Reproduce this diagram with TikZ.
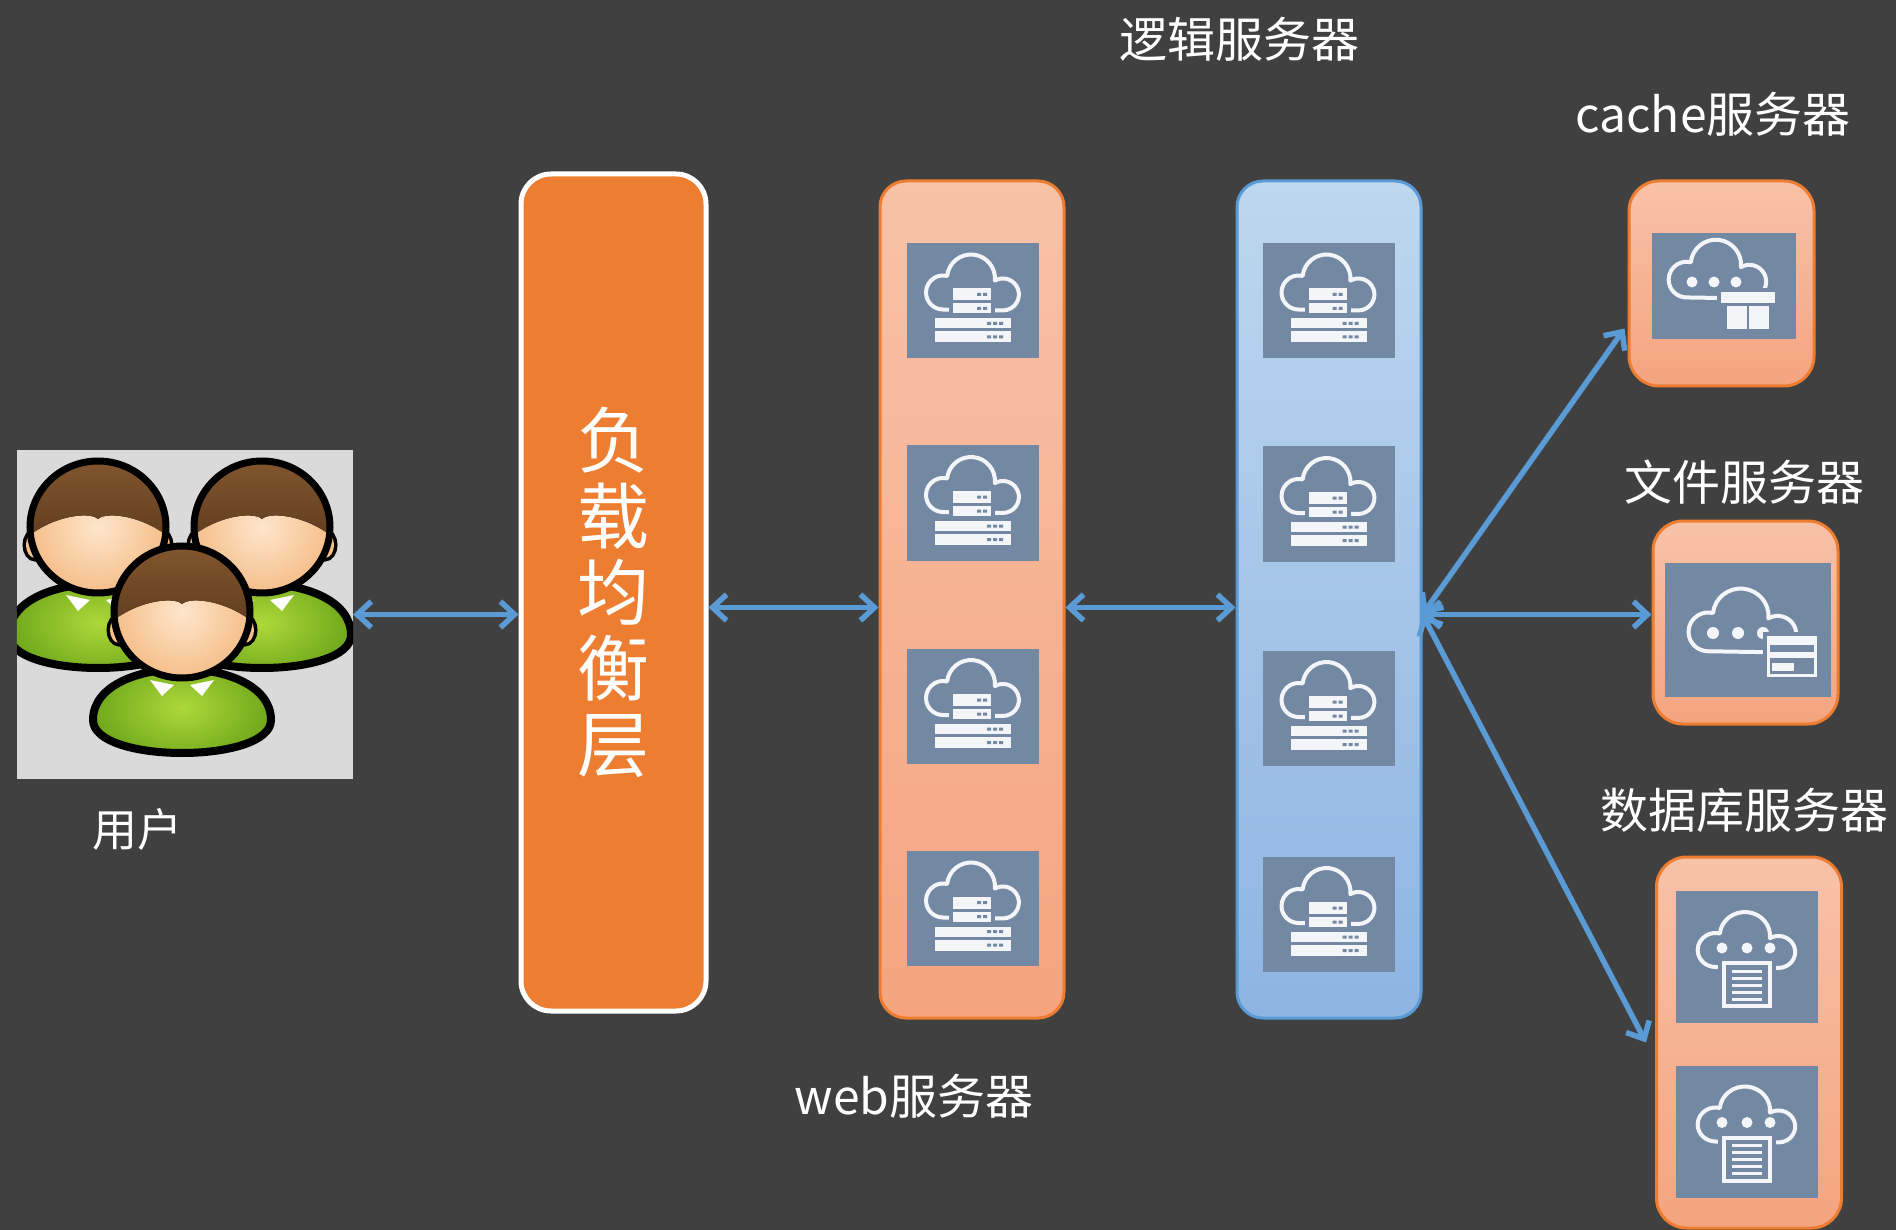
\documentclass[tikz,border=0pt]{standalone}
\usepackage{fontspec}
\setmainfont{Noto Sans CJK SC}
\usetikzlibrary{arrows.meta}

\definecolor{bgdark}{HTML}{404040}
\definecolor{lborange}{HTML}{ED7D31}
\definecolor{webtop}{HTML}{F8C2A8}
\definecolor{webbot}{HTML}{F5A47F}
\definecolor{logictop}{HTML}{BDD7EE}
\definecolor{logicbot}{HTML}{8EB4E3}
\definecolor{logicedge}{HTML}{5B9BD5}
\definecolor{linkblue}{HTML}{5B9BD5}
\definecolor{iconbg}{HTML}{7389A3}
\definecolor{iconfg}{HTML}{F3F5F8}
\definecolor{userbg}{HTML}{DADADA}
\definecolor{shirt}{HTML}{6FA81B}
\definecolor{shirtlight}{HTML}{AED83A}
\definecolor{face}{HTML}{F5BE8A}
\definecolor{facelight}{HTML}{FEE6CC}
\definecolor{hair}{HTML}{5E3B1E}
\definecolor{hairlight}{HTML}{8A5B31}

\tikzset{
  iconline/.style={draw=iconfg, line width=4pt, line join=round},
  % cloud outline, three bumps
  cloudicon/.pic={
    \draw[iconline] (-30,9) arc[start angle=90,end angle=284,radius=17]
      arc[start angle=186,end angle=365,radius=24]
      arc[start angle=240,end angle=450,radius=16] -- cycle;
  },
  % cloud with a server stack
  servericon/.pic={
    \fill[iconbg] (-66,-57.5) rectangle (66,57.5);
    \pic {cloudicon};
    \fill[iconbg] (-24,-16) rectangle (22,17);
    \fill[iconbg] (-42,15) rectangle (42,46);
    \fill[iconfg] (-20,-12) rectangle (18,0);
    \fill[iconfg] (-20,3) rectangle (18,13);
    \fill[iconfg] (-38,18) rectangle (38,28);
    \fill[iconfg] (-38,31) rectangle (38,42);
    \foreach \r in {-6,8} \fill[iconbg] (4,\r-1.5) rectangle ++(4,3) (10,\r-1.5) rectangle ++(4,3);
    \foreach \r in {23,36.5} \fill[iconbg] (14,\r-1.5) rectangle ++(4,3) (20,\r-1.5) rectangle ++(4,3) (26,\r-1.5) rectangle ++(4,3);
  },
  % cloud with a box
  cacheicon/.pic={
    \fill[iconbg] (-72,-53) rectangle (72,53);
    \pic[scale=1.05] at (-6,2) {cloudicon};
    \fill[iconfg] (-32,-4) circle (5.5) (-10,-4) circle (5.5) (12,-4) circle (5.5);
    \fill[iconbg] (-7,2) rectangle (55,47);
    \fill[iconfg] (-3,6) rectangle (51,17);
    \fill[iconfg] (3,20) rectangle (45,43);
    \fill[iconbg] (23,20) rectangle (25,43);
  },
  % cloud with a card
  fileicon/.pic={
    \fill[iconbg] (-83,-67) rectangle (83,67);
    \pic[xscale=1.16,yscale=1.14] at (-5,11) {cloudicon};
    \fill[iconfg] (-35,3) circle (6) (-10,3) circle (6) (15,3) circle (6);
    \fill[iconbg] (15,2) rectangle (72,50);
    \draw[iconfg, line width=3pt] (20,7) rectangle (67,45);
    \fill[iconfg] (20,7) rectangle (67,15);
    \fill[iconfg] (20,22) rectangle (67,28);
    \fill[iconfg] (24,33) rectangle (46,41);
  },
  % cloud with a list
  dbicon/.pic={
    \fill[iconbg] (-71,-66) rectangle (71,66);
    \pic[xscale=1.05] at (0,1) {cloudicon};
    \fill[iconfg] (-25,-9) circle (5.5) (0,-9) circle (5.5) (23,-9) circle (5.5);
    \fill[iconbg] (-29,2) rectangle (29,54);
    \draw[iconfg, line width=4pt] (-23,6) rectangle (23,49);
    \foreach \r in {14,21,28,35,42} \draw[iconfg, line width=3pt] (-15,\r) -- (15,\r);
  },
  % one cartoon user, head centre at the origin
  person/.pic={
    \draw[line width=8pt, inner color=shirtlight, outer color=shirt]
      (-89,112) .. controls (-89,44) and (89,44) .. (89,112)
      .. controls (89,156) and (-89,156) .. cycle;
    \fill[white] (-32,72) -- (-8,77) -- (-20,88) -- cycle;
    \fill[white] (32,72) -- (8,77) -- (20,88) -- cycle;
    \draw[line width=7pt, fill=face] (-63,22) ellipse (9 and 13);
    \draw[line width=7pt, fill=face] (63,22) ellipse (9 and 13);
    \fill[face] (-63,22) ellipse (9 and 13) (63,22) ellipse (9 and 13);
    \fill[inner color=facelight, outer color=face] (0,4) ellipse (68 and 66);
    \begin{scope}
      \clip (0,4) ellipse (68 and 66);
      \fill[top color=hairlight, bottom color=hair] (-80,22) .. controls (-50,-8) and (-8,-12) .. (0,-4)
        .. controls (8,-12) and (50,-8) .. (80,22) -- (80,-80) -- (-80,-80) -- cycle;
    \end{scope}
    \draw[line width=7pt] (0,4) ellipse (68 and 66);
  }
}

\begin{document}
\begin{tikzpicture}[x=1pt,y=-1pt]

% Define styles
\tikzstyle{tier}=[rectangle, rounded corners=26pt, minimum width=184pt, minimum height=837pt, line width=3pt]
\tikzstyle{webtier}=[tier, draw=lborange, top color=webtop, bottom color=webbot]
\tikzstyle{logictier}=[tier, draw=logicedge, top color=logictop, bottom color=logicbot]
\tikzstyle{lbbar}=[rectangle, rounded corners=30pt, minimum width=185pt, minimum height=837pt, fill=lborange, draw=white, line width=5pt, text=white, align=center, font=\fontsize{72pt}{76pt}\selectfont]
\tikzstyle{storebox}=[rectangle, rounded corners=30pt, minimum width=185pt, line width=3pt, draw=lborange, top color=webtop, bottom color=webbot]
\tikzstyle{caption}=[text=white, font=\fontsize{48pt}{56pt}\selectfont, inner sep=0pt]
\tikzstyle{link}=[<->, >={Straight Barb[length=14pt,width=26pt]}, line width=5.5pt, draw=linkblue, line cap=round]

% Background
\fill[bgdark] (0,0) rectangle (1896,1230);
\useasboundingbox (0,0) rectangle (1896,1230);

% Users
\node[fill=userbg, minimum width=336pt, minimum height=329pt, inner sep=0pt] (users) at (185,614.5) {};
\begin{scope}
  \clip (users.south west) rectangle (users.north east);
  \pic at (98,523) {person};
  \pic at (262,523) {person};
  \pic at (182,608) {person};
\end{scope}
\node[caption, font=\fontsize{45pt}{54pt}\selectfont] (usercap) at (137,829) {用户};

% Tiers
\node[lbbar] (lb) at (613.5,592.5) {负\\载\\均\\衡\\层};
\node[webtier] (web) at (972,599.5) {};
\node[logictier] (logic) at (1329,599.5) {};
\node[storebox, minimum height=205pt] (cache) at (1721.5,283.5) {};
\node[storebox, minimum height=203pt] (file) at (1745.5,622.5) {};
\node[storebox, minimum height=371pt] (db) at (1749,1042.5) {};

% Icons
\foreach \y in {300.5,503,706,908.5} \pic at (973,\y) {servericon};
\foreach \y in {300.5,504,708,914} \pic at (1328.5,\y) {servericon};
\pic at (1724,286) {cacheicon};
\pic at (1748,630) {fileicon};
\pic at (1747,957) {dbicon};
\pic at (1747,1131.5) {dbicon};

% Captions
\node[caption] (logiccap) at (1239,39) {逻辑服务器};
\node[caption] (webcap) at (914,1096) {web服务器};
\node[caption] (cachecap) at (1713,114) {cache服务器};
\node[caption] (filecap) at (1744,482) {文件服务器};
\node[caption] (dbcap) at (1744,810) {数据库服务器};

% Links
\coordinate (wl) at ([yshift=-8pt]web.west);
\coordinate (hub) at ([yshift=-15pt]logic.east);
\draw[link] (users.east) -- (users.east -| lb.west);
\draw[link] (lb.east |- wl) -- (wl);
\draw[link] (web.east |- wl) -- (logic.west |- wl);
\draw[link] (hub) -- ([xshift=-3pt,yshift=-45pt]cache.west);
\draw[link] (hub) -- (hub -| file.west);
\draw[link] (hub) -- ([xshift=-9pt]db.west);

\end{tikzpicture}
\end{document}
